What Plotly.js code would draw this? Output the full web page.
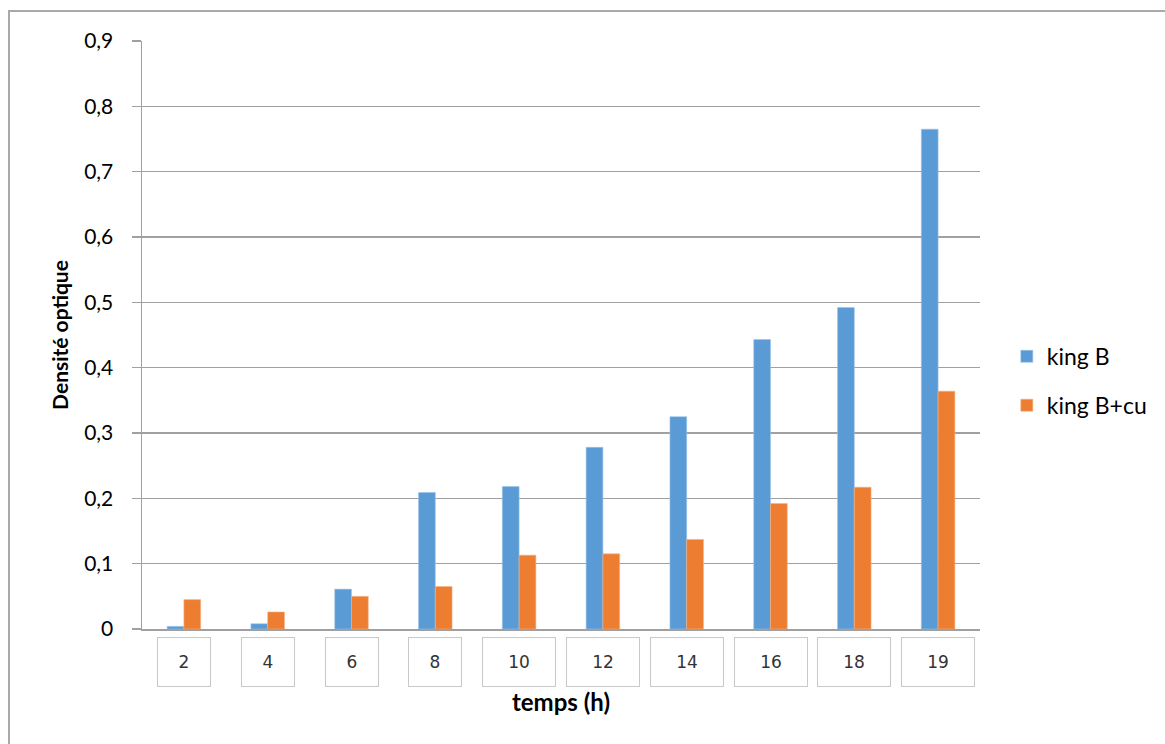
<!DOCTYPE html>
<html>
<head>
<meta charset="utf-8">
<script src="https://cdn.plot.ly/plotly-3.0.1.min.js"></script>
<style>
  html, body { margin: 0; padding: 0; background: #fff; }
  #frame { position: absolute; left: 8px; top: 10px; width: 1160px; height: 740px;
           border-top: 2px solid #a9a9a9; border-left: 2px solid #a9a9a9; box-sizing: border-box; }
  #chart { position: absolute; left: 0; top: 0; width: 1165px; height: 744px; }
</style>
</head>
<body>
<div id="frame"></div>
<div id="chart"></div>
<script>
// ---- data ----
const categories = ['2', '4', '6', '8', '10', '12', '14', '16', '18', '19'];
const kingB      = [0.004, 0.008, 0.061, 0.209, 0.218, 0.278, 0.325, 0.443, 0.492, 0.765];
const kingBcu    = [0.045, 0.026, 0.050, 0.065, 0.113, 0.115, 0.137, 0.192, 0.217, 0.364];
const seriesNames = ['king B', 'king B+cu'];
const yTickVals  = [0, 0.1, 0.2, 0.3, 0.4, 0.5, 0.6, 0.7, 0.8, 0.9];
const yTickText  = ['0', '0,1', '0,2', '0,3', '0,4', '0,5', '0,6', '0,7', '0,8', '0,9'];
const xTitle = 'temps (h)';
const yTitle = 'Densité optique';

const traces = [
  { type: 'bar', x: categories, y: kingB, name: seriesNames[0], legendgroup: 'a',
    marker: { color: '#5b9bd5', line: { color: '#9cc3e8', width: 0.6 } } },
  { type: 'bar', x: categories, y: kingBcu, name: seriesNames[1], legendgroup: 'b',
    marker: { color: '#ed7d31', line: { color: '#f4b184', width: 0.6 } } }
];

// boxed category labels (as in the reference), placed by category index
const annotations = categories.map((c, i) => ({
  x: i, y: 0, xref: 'x', yref: 'y',
  text: c, showarrow: false,
  yanchor: 'top', yshift: -8,
  width: c.length > 1 ? 70 : 50, height: 46,
  bordercolor: '#c9c9c9', borderwidth: 1, bgcolor: '#ffffff',
  font: { family: 'DejaVu Sans', size: 17, color: '#333333' }
}));

const layout = {
  width: 1165, height: 744,
  margin: { l: 142, r: 185, t: 41, b: 115 },
  paper_bgcolor: 'rgba(0,0,0,0)', plot_bgcolor: '#ffffff',
  barmode: 'group', bargap: 0.6, bargroupgap: 0,
  font: { family: 'Lato, "Open Sans", sans-serif', color: '#000' },
  xaxis: {
    type: 'category', range: [-0.5, categories.length - 0.5],
    showticklabels: false, ticks: '',
    showline: true, linecolor: '#a0a0a0', linewidth: 1.5,
    showgrid: false, zeroline: false,
    title: { text: xTitle, standoff: 64, font: { family: 'Lato', size: 24, color: '#000', weight: 'bold' } }
  },
  yaxis: {
    range: [0, 0.9], tickvals: yTickVals, ticktext: yTickText,
    ticks: 'outside', ticklen: 9, tickcolor: '#a0a0a0', tickwidth: 1.5,
    ticklabelstandoff: 14,
    showline: true, linecolor: '#a0a0a0', linewidth: 1.5,
    gridcolor: '#a0a0a0', gridwidth: 1.5, zeroline: false,
    tickfont: { family: 'Lato', size: 21, color: '#000' },
    title: { text: yTitle, standoff: 10, font: { family: 'Lato', size: 21, color: '#000', weight: 'bold' } }
  },
  legend: {
    x: 1.032, xanchor: 'left', y: 0.422, yanchor: 'middle',
    traceorder: 'grouped', tracegroupgap: 16,
    font: { family: 'Lato', size: 23, color: '#000' },
    bgcolor: 'rgba(0,0,0,0)'
  },
  annotations: annotations,
  showlegend: true
};

Plotly.newPlot('chart', traces, layout, { displayModeBar: false, staticPlot: true });
</script>
</body>
</html>
